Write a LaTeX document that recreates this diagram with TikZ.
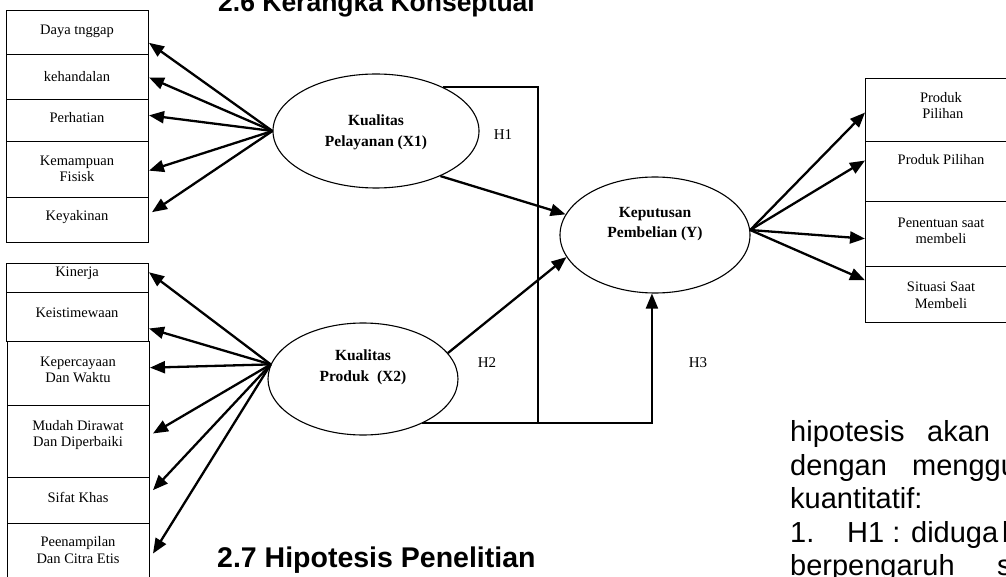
\documentclass[tikz,border=0pt]{standalone}
\usepackage{fontspec}
\setmainfont{Liberation Serif}
\newfontfamily\arialf{Liberation Sans}
\usetikzlibrary{arrows.meta,shapes.geometric,calc}
\begin{document}
\begin{tikzpicture}[x=1pt,y=-1pt,
  box/.style={draw,line width=1pt,rectangle,inner sep=0,anchor=north west},
  ell/.style={draw,line width=1.1pt,ellipse,inner sep=0},
  lbl/.style={font=\fontsize{14.5}{16.5}\selectfont,align=center,inner sep=0},
  elbl/.style={font=\bfseries\fontsize{15.5}{20.5}\selectfont,align=center,inner sep=0},
  hlbl/.style={font=\fontsize{15}{17}\selectfont,inner sep=0},
  arr/.style={line width=2.3pt,-{Triangle[length=15pt,width=12pt]}},
  arrb/.style={line width=2pt,-{Triangle[length=15pt,width=12pt]}},
  link/.style={line width=1.6pt},
  head/.style={font=\arialf\bfseries\fontsize{28}{30}\selectfont,anchor=base west,inner sep=0},
  body/.style={font=\arialf\fontsize{29}{33}\selectfont,anchor=base west,inner sep=0}
]
\useasboundingbox (0,0) rectangle (1006,577);
\clip (0,0) rectangle (1006,577);

% headings and body text
\node[head,font=\arialf\bfseries\fontsize{26.5}{30}\selectfont] (h26) at (218,11.5) {2.6 Kerangka Konseptual};
\node[head,font=\arialf\bfseries\fontsize{28.5}{30}\selectfont] (h27) at (217,567) {2.7 Hipotesis Penelitian};
\node[body] (w1) at (790,441) {hipotesis};
\node[body] (w2) at (927,441) {akan};
\node[body] (w3) at (790,475) {dengan};
\node[body] (w4) at (912,475) {menggu};
\node[body] (w5) at (790,508) {kuantitatif:};
\node[body] (w6) at (790,542) {1.};
\node[body] (w7) at (847,542) {H1 : diduga};
\node[body] (w8) at (1002,542) {b};
\node[body] (w9) at (790,575) {berpengaruh};
\node[body] (w10) at (997,575) {s};

% left top boxes
\node[box,minimum width=142pt,minimum height=44pt] (L1) at (6,10) {};
\node[box,minimum width=142pt,minimum height=45pt] (L2) at (6,54) {};
\node[box,minimum width=142pt,minimum height=42pt] (L3) at (6,99) {};
\node[box,minimum width=142pt,minimum height=56pt] (L4) at (6,141) {};
\node[box,minimum width=142pt,minimum height=45pt] (L5) at (6,197) {};
\node[lbl] (tL1) at (77,31) {Daya tnggap};
\node[lbl] (tL2) at (77,77) {kehandalan};
\node[lbl] (tL3) at (77,118) {Perhatian};
\node[lbl] (tL4) at (77,169) {Kemampuan\\Fisisk};
\node[lbl] (tL5) at (77,217) {Keyakinan};

% left bottom boxes
\node[box,minimum width=142pt,minimum height=29pt] (B1) at (6,263) {};
\node[box,minimum width=142pt,minimum height=49pt] (B2) at (6,292) {};
\node[box,minimum width=142pt,minimum height=64pt] (B3) at (7,341) {};
\node[box,minimum width=142pt,minimum height=72pt] (B4) at (7,405) {};
\node[box,minimum width=142pt,minimum height=46pt] (B5) at (7,477) {};
\node[box,minimum width=142pt,minimum height=70pt] (B6) at (7,523) {};
\node[lbl] (tB1) at (77,273) {Kinerja};
\node[lbl] (tB2) at (77,313) {Keistimewaan};
\node[lbl] (tB3) at (78,370) {Kepercayaan\\Dan Waktu};
\node[lbl] (tB4) at (78,435) {Mudah Dirawat\\Dan Diperbaiki};
\node[lbl] (tB5) at (78,497) {Sifat Khas};
\node[lbl] (tB6) at (78,550) {Peenampilan\\Dan Citra Etis};

% right boxes
\node[box,minimum width=150pt,minimum height=63pt] (R1) at (865,78) {};
\node[box,minimum width=150pt,minimum height=60pt] (R2) at (865,141) {};
\node[box,minimum width=150pt,minimum height=65pt] (R3) at (865,201) {};
\node[box,minimum width=150pt,minimum height=56pt] (R4) at (865,266) {};
\node[lbl] (tR1) at (941,105.5) {Produk\\\ Pilihan};
\node[lbl] (tR2) at (941,160) {Produk Pilihan};
\node[lbl] (tR3) at (941,231) {Penentuan saat\\membeli};
\node[lbl] (tR4) at (941,295.5) {Situasi Saat\\Membeli};

% ellipses
\node[ell,minimum width=206pt,minimum height=114pt] (X1) at (376,131) {};
\node[ell,minimum width=190pt,minimum height=112pt] (X2) at (363,379) {};
\node[ell,minimum width=190pt,minimum height=116pt] (Y) at (655,235) {};
\node[elbl] (tX1) at (376,132.5) {Kualitas\\Pelayanan (X1)};
\node[elbl] (tX2) at (363,367.5) {Kualitas\\Produk\enspace(X2)};
\node[elbl] (tY) at (655,224) {Keputusan\\Pembelian (Y)};

% hypothesis labels
\node[hlbl] (H1) at (503,135) {H1};
\node[hlbl] (H2) at (487,363) {H2};
\node[hlbl] (H3) at (698,363) {H3};

% left arrows from X1
\draw[arr] (X1.west) -- ($(L1.north east)!0.73!(L1.south east)$);
\draw[arr] (X1.west) -- ($(L2.north east)!0.51!(L2.south east)$);
\draw[arr] (X1.west) -- ($(L3.north east)!0.38!(L3.south east)$);
\draw[arr] (X1.west) -- ($(L4.north east)!0.52!(L4.south east)$);
\draw[arr] (X1.west) -- ($(L5.north east)!0.33!(L5.south east)+(3,0)$);

% left arrows from X2
\draw[arr] (X2.171) -- ($(B1.north east)!0.31!(B1.south east)$);
\draw[arr] (X2.171) -- ($(B2.north east)!0.73!(B2.south east)$);
\draw[arr] (X2.171) -- ($(B3.north east)!0.41!(B3.south east)$);
\draw[arr] (X2.171) -- ($(B4.north east)!0.39!(B4.south east)+(3,0)$);
\draw[arr] (X2.171) -- ($(B5.north east)!0.28!(B5.south east)+(3,0)$);
\draw[arr] (X2.171) -- ($(B6.north east)!0.43!(B6.south east)+(3,0)$);

% right arrows from Y
\draw[arr] (Y.3) -- ($(R1.north west)!0.54!(R1.south west)$);
\draw[arr] (Y.3) -- ($(R2.north west)!0.32!(R2.south west)$);
\draw[arr] (Y.3) -- ($(R3.north west)!0.57!(R3.south west)$);
\draw[arr] (Y.3) -- ($(R4.north west)!0.25!(R4.south west)$);

% hypothesis paths
\coordinate (J) at (538,423);
\draw[link] (X1.33) -| (J);
\draw[arrb] (X2.-37) -| (Y.-93);
\draw[arr] (X1.-35) -- (Y.167);
\draw[arr] (X2.17) -- (Y.194);
\end{tikzpicture}
\end{document}
